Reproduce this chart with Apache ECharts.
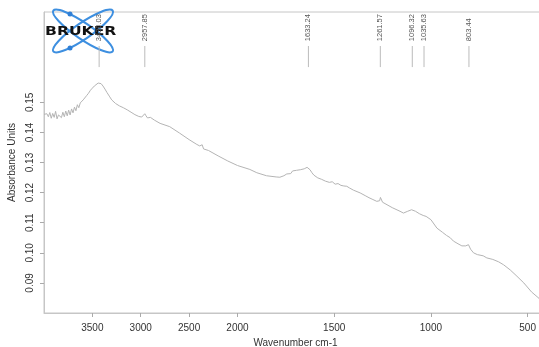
<!DOCTYPE html>
<html>
<head>
<meta charset="utf-8">
<script src="https://cdn.jsdelivr.net/npm/echarts@6/dist/echarts.min.js"></script>
<style>
  html, body { margin: 0; padding: 0; background: #fff; }
  #chart { width: 539px; height: 347px; }
</style>
</head>
<body>
<div id="chart"></div>
<script>
// spectrum: wavenumber (cm-1) / absorbance
const wavenumbers = [
  4000, 3985, 3970, 3955, 3940, 3925, 3910, 3895, 3880, 3865, 3850, 3835, 3820, 3805, 3790,
  3775, 3760, 3745, 3730, 3715, 3700, 3685, 3670, 3655, 3640, 3625, 3610, 3595, 3580, 3560,
  3540, 3520, 3500, 3480, 3460, 3440, 3428, 3410, 3390, 3370, 3350, 3320, 3300, 3260, 3220,
  3180, 3140, 3100, 3060, 3020, 2990, 2970, 2958, 2945, 2930, 2915, 2900, 2885, 2860, 2800,
  2700, 2600, 2500, 2420, 2390, 2365, 2350, 2330, 2300, 2200, 2100, 2000, 1936, 1900, 1850,
  1800, 1781, 1760, 1745, 1735, 1725, 1715, 1705, 1695, 1685, 1675, 1665, 1655, 1645, 1640,
  1633, 1625, 1615, 1605, 1595, 1585, 1575, 1565, 1555, 1545, 1535, 1525, 1510, 1495, 1480,
  1465, 1450, 1435, 1420, 1400, 1366, 1340, 1320, 1300, 1280, 1265, 1261, 1250, 1240, 1200,
  1160, 1142, 1120, 1100, 1080, 1060, 1040, 1025, 1000, 969, 940, 920, 900, 884, 860,
  840, 820, 806, 795, 780, 760, 730, 711, 680, 650, 624, 590, 560, 520, 480,
  440, 400
];
const absorbance = [
  .1460, .1455, .1462, .1452, .1466, .1447, .1463, .1450, .1470, .1445, .1458, .1462, .1449, .1467, .1452,
  .1471, .1455, .1474, .1458, .1478, .1465, .1484, .1472, .1492, .1482, .1498, .1494, .1508, .1512, .1522,
  .1530, .1540, .1547, .1554, .1560, .1564, .1565, .1562, .1554, .1544, .1533, .1518, .1508, .1496, .1488,
  .1482, .1475, .1467, .1459, .1453, .1451, .1456, .1462, .1455, .1448, .1447, .1450, .1444, .1441, .1430,
  .1419, .1398, .1376, .1360, .1355, .1359, .1345, .1349, .1340, .1322, .1305, .1290, .1277, .1266, .1256,
  .1252, .1251, .1256, .1262, .1268, .1263, .1272, .1266, .1274, .1268, .1276, .1270, .1279, .1276, .1284,
  .1280, .1276, .1266, .1258, .1252, .1249, .1254, .1244, .1248, .1238, .1242, .1234, .1236, .1228, .1230,
  .1224, .1222, .1221, .1215, .1208, .1199, .1190, .1183, .1177, .1171, .1173, .1184, .1168, .1164, .1150,
  .1138, .1132, .1138, .1143, .1138, .1130, .1124, .1121, .1110, .1082, .1068, .1058, .1050, .1039, .1030,
  .1023, .1023, .1027, .1012, .1000, .0994, .0990, .0983, .0978, .0970, .0960, .0943, .0925, .0900, .0870,
  .0848, .0818
];

const xTickLabels = [3500, 3000, 2500, 2000, 1500, 1000, 500];
const yTickLabels = [0.09, 0.10, 0.11, 0.12, 0.13, 0.14, 0.15];

// peak picks printed along the top
const peakWavenumbers = [3430.03, 2957.85, 1633.24, 1261.57, 1096.32, 1035.63, 803.44];
const peakLabels = ['3430.03', '2957.85', '1633.24', '1261.57', '1096.32', '1035.63', '803.44'];

// OPUS draws everything above 2000 cm-1 at half scale
const toAxis = w => (w > 2000 ? 2000 + (w - 2000) / 2 : w);
const fromAxis = v => (v > 2000 ? 2000 + (v - 2000) * 2 : v);

const gray = '#c6c6c6';
const font = 'Liberation Sans';
const logoBlue = '#3d8fe0';

let myChart = echarts.init(document.getElementById('chart'));

let spectrum = wavenumbers.map((w, i) => [toAxis(w), absorbance[i]]);
let peaks = peakWavenumbers.map(w => [toAxis(w)]);

let option = {
    backgroundColor: '#fff',
    animation: false,
    grid: {
        left: 44,
        top: 12,
        bottom: 34,
        right: -8,
        show: true,
        borderColor: gray,
        borderWidth: 1,
        outerBoundsMode: 'none'
    },
    xAxis: {
        type: 'value',
        inverse: true,
        min: 400,
        max: 3000,
        name: 'Wavenumber cm-1',
        nameLocation: 'middle',
        nameGap: 25,
        nameTextStyle: { fontFamily: font, fontSize: 10, color: '#333' },
        splitLine: { show: false },
        axisLine: { show: true, lineStyle: { color: gray } },
        axisTick: {
            show: true,
            length: 4,
            lineStyle: { color: '#aaa' },
            customValues: xTickLabels.map(toAxis)
        },
        axisLabel: {
            fontFamily: font,
            fontSize: 10,
            color: '#333',
            margin: 10,
            customValues: xTickLabels.map(toAxis),
            formatter: v => String(Math.round(fromAxis(v)))
        }
    },
    yAxis: {
        type: 'value',
        min: 0.08,
        max: 0.18,
        name: 'Absorbance Units',
        nameLocation: 'middle',
        nameGap: 26,
        nameTextStyle: { fontFamily: font, fontSize: 10, color: '#333' },
        splitLine: { show: false },
        axisLine: { show: true, lineStyle: { color: gray } },
        axisTick: {
            show: true,
            length: 4,
            lineStyle: { color: '#aaa' },
            customValues: yTickLabels
        },
        axisLabel: {
            fontFamily: font,
            fontSize: 10,
            color: '#333',
            rotate: 90,
            margin: 9,
            customValues: yTickLabels,
            formatter: v => v.toFixed(2)
        }
    },
    series: [
        {
            type: 'line',
            data: spectrum,
            showSymbol: false,
            lineStyle: { color: '#b4b4b4', width: 1 },
            z: 2
        },
        {
            type: 'custom',
            data: peaks,
            z: 3,
            renderItem: (params, api) => {
                const x = api.value(0);
                const lo = api.coord([x, 0.1617]);
                const hi = api.coord([x, 0.1687]);
                const base = api.coord([x, 0.1703]);
                return {
                    type: 'group',
                    children: [
                        {
                            type: 'line',
                            shape: { x1: lo[0], y1: lo[1], x2: hi[0], y2: hi[1] },
                            style: { stroke: '#bbb', lineWidth: 1 }
                        },
                        {
                            type: 'text',
                            x: base[0],
                            y: base[1],
                            rotation: Math.PI / 2,
                            style: {
                                text: peakLabels[params.dataIndex],
                                fontFamily: font,
                                fontSize: 7.5,
                                fill: '#555',
                                align: 'left',
                                verticalAlign: 'middle'
                            }
                        }
                    ]
                };
            }
        }
    ],
    // Bruker logo in the top left corner
    graphic: [
        {
            type: 'group',
            z: 100,
            children: [
                {
                    type: 'ellipse',
                    x: 83, y: 31,
                    rotation: 0.6,
                    shape: { cx: 0, cy: 0, rx: 36, ry: 8 },
                    style: { fill: 'none', stroke: logoBlue, lineWidth: 2 }
                },
                {
                    type: 'ellipse',
                    x: 83, y: 31,
                    rotation: -0.6,
                    shape: { cx: 0, cy: 0, rx: 36, ry: 8 },
                    style: { fill: 'none', stroke: logoBlue, lineWidth: 2 }
                },
                { type: 'circle', shape: { cx: 70, cy: 14, r: 2.5 }, style: { fill: '#2f7fd6' } },
                { type: 'circle', shape: { cx: 70, cy: 48, r: 2.5 }, style: { fill: '#2f7fd6' } },
                {
                    type: 'text',
                    x: 45,
                    y: 32,
                    scaleX: 1.3,
                    style: {
                        text: 'BRUKER',
                        fontFamily: 'DejaVu Sans',
                        fontWeight: 'bold',
                        fontSize: 12,
                        fill: '#111',
                        verticalAlign: 'middle'
                    }
                }
            ]
        }
    ]
};

myChart.setOption(option);
window.onresize = function () {
    myChart.resize();
};
</script>
</body>
</html>
